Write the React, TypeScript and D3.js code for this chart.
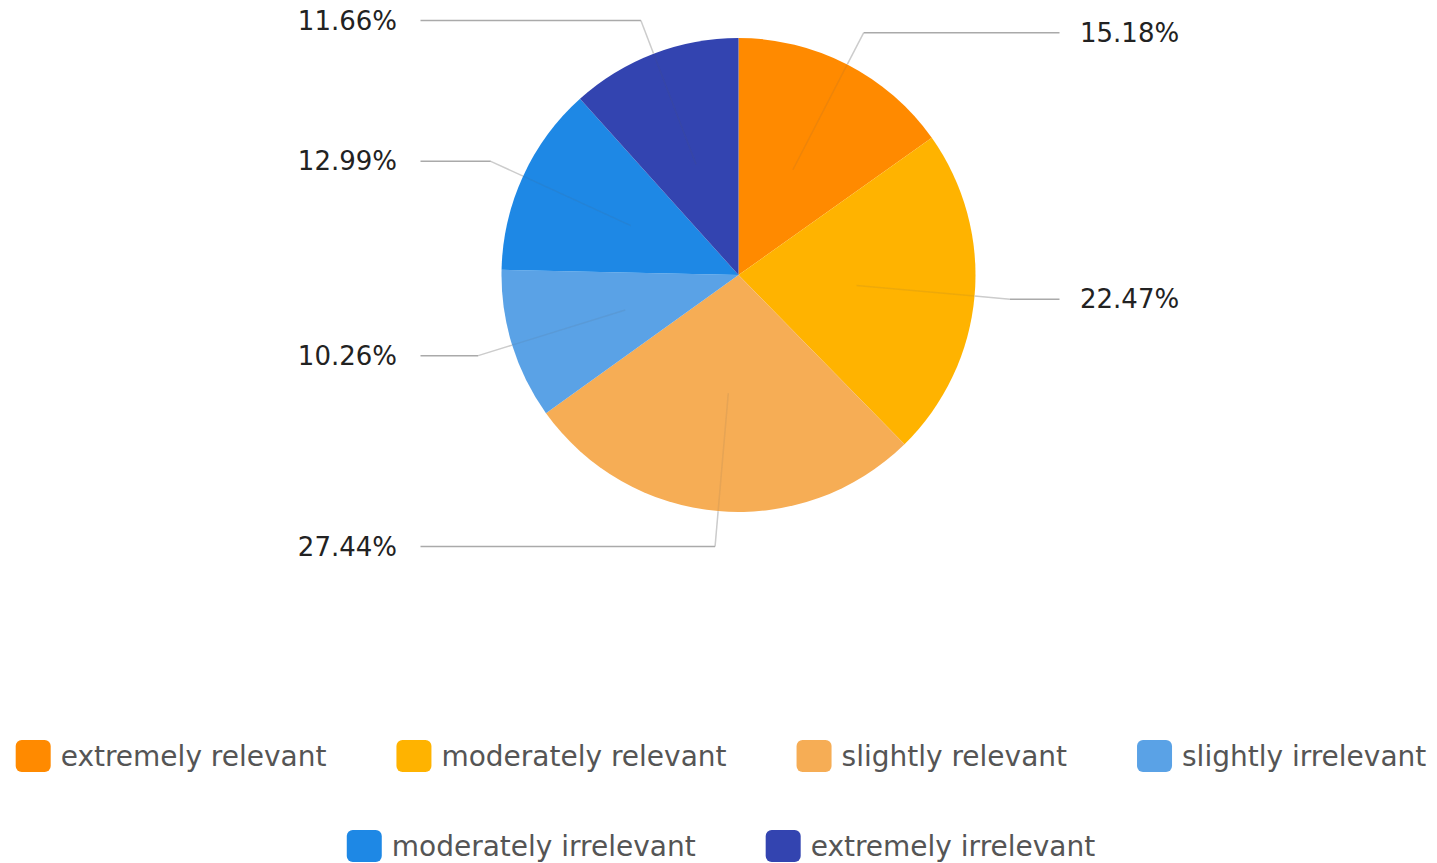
import React from "react";
import * as d3 from "d3";

const categories = [
  "extremely relevant",
  "moderately relevant",
  "slightly relevant",
  "slightly irrelevant",
  "moderately irrelevant",
  "extremely irrelevant",
];
const values = [15.18, 22.47, 27.44, 10.26, 12.99, 11.66];
const colors = ["#FF8A00", "#FFB300", "#F6AD55", "#5AA2E6", "#1E88E5", "#3344B0"];
const legendRows = [[0, 1, 2, 3], [4, 5]];

const W = 1437;
const H = 863;
const CX = 738.5;
const CY = 275;
const R = 237;
const FONT = "DejaVu Sans, sans-serif";

function measure(text: string, size: number): number {
  if (typeof document === "undefined") return text.length * size * 0.55;
  const c = document.createElement("canvas");
  const ctx = c.getContext("2d");
  if (!ctx) return text.length * size * 0.55;
  ctx.font = `${size}px DejaVu Sans`;
  return ctx.measureText(text).width;
}

export default function App() {
  const data = categories.map((c, i) => ({ name: c, value: values[i], color: colors[i] }));
  const pie = d3.pie<any>().value((d) => d.value).sort(null);
  const arcs = pie(data);
  const arcGen = d3.arc<any>().innerRadius(0).outerRadius(R);

  const legendFont = 28;
  const sw = 35;
  const swH = 32;
  const textGap = 10;
  const itemGap = 70;
  const legendCenter = 721;
  const rowY = [756, 846];

  const legendItems: any[] = [];
  legendRows.forEach((row, ri) => {
    const widths = row.map((i) => sw + textGap + measure(categories[i], legendFont));
    const total = d3.sum(widths) + itemGap * (row.length - 1);
    let x = legendCenter - total / 2;
    row.forEach((i, k) => {
      legendItems.push({ i, x, y: rowY[ri] });
      x += widths[k] + itemGap;
    });
  });

  return (
    <svg
      width={W}
      height={H}
      style={{ position: "absolute", left: 0, top: 0, background: "#fff" }}
      fontFamily={FONT}
    >
      <g transform={`translate(${CX},${CY})`}>
        {arcs.map((a, i) => (
          <path key={i} d={arcGen(a) as string} fill={a.data.color} />
        ))}
      </g>
      <g>
        {arcs.map((a, i) => {
          const mid = (a.startAngle + a.endAngle) / 2;
          const sx = Math.sin(mid);
          const sy = -Math.cos(mid);
          const right = sx > 0;
          const inner = [CX + R * 0.5 * sx, CY + R * 0.5 * sy];
          const edge = [CX + R * sx, CY + R * sy];
          const elbow = [CX + R * 1.15 * sx, CY + R * 1.15 * sy];
          const endX = right ? CX + 321 : CX - 318;
          const labelX = right ? CX + 341.5 : CX - 341.5;
          return (
            <g key={i}>
              <line
                x1={inner[0]}
                y1={inner[1]}
                x2={edge[0]}
                y2={edge[1]}
                stroke="#555"
                strokeOpacity={0.1}
                strokeWidth={1.5}
              />
              <line
                x1={edge[0]}
                y1={edge[1]}
                x2={elbow[0]}
                y2={elbow[1]}
                stroke="#ccc"
                strokeWidth={1.5}
              />
              <line
                x1={elbow[0]}
                y1={elbow[1]}
                x2={endX}
                y2={elbow[1]}
                stroke="#aaa"
                strokeWidth={1.5}
              />
              <text
                x={labelX}
                y={elbow[1]}
                dy="0.35em"
                textAnchor={right ? "start" : "end"}
                fontSize={26}
                fill="#222"
              >
                {`${a.data.value.toFixed(2)}%`}
              </text>
            </g>
          );
        })}
      </g>
      <g>
        {legendItems.map((it) => (
          <g key={it.i}>
            <rect
              x={it.x}
              y={it.y - swH / 2}
              width={sw}
              height={swH}
              rx={6}
              fill={colors[it.i]}
            />
            <text
              x={it.x + sw + textGap}
              y={it.y}
              dy="0.35em"
              fontSize={legendFont}
              fill="#555"
            >
              {categories[it.i]}
            </text>
          </g>
        ))}
      </g>
    </svg>
  );
}
